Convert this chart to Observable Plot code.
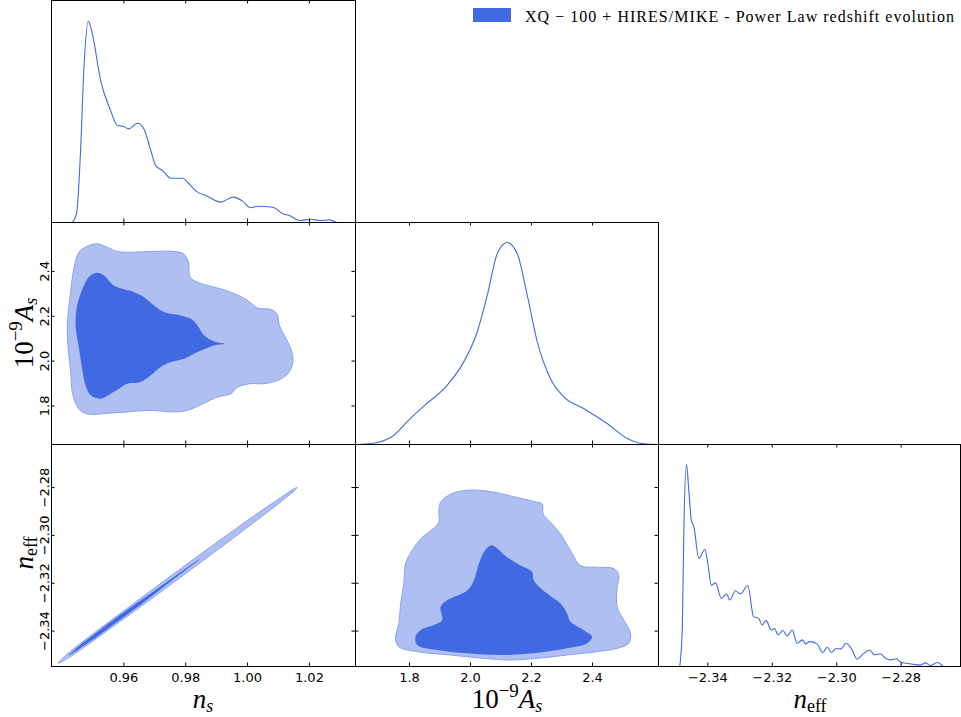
<!DOCTYPE html>
<html>
<head>
<meta charset="utf-8">
<script src="https://cdn.jsdelivr.net/npm/d3@7"></script>
<script src="https://cdn.jsdelivr.net/npm/@observablehq/plot@0.6"></script>
<style>
  html, body { margin: 0; padding: 0; background: white; }
  #root { position: relative; width: 961px; height: 717px; overflow: hidden; background: white; }
  #root svg.panel { position: absolute; }
  #overlay { position: absolute; left: 0; top: 0; pointer-events: none; }
</style>
</head>
<body>
<div id="root"></div>
<script>
// ---------- tick values ----------
const nsTicks = [0.96, 0.98, 1.00, 1.02];
const asTicks = [1.8, 2.0, 2.2, 2.4];
const neffTicks = [-2.34, -2.32, -2.30, -2.28];

// ---------- axis limits ----------
const nsDomain = [0.9366, 1.0349];
const asDomain = [1.623, 2.6164];
const asDomainY = [1.628, 2.618];
const neffDomain = [-2.3553, -2.2616];
const neffDomainY = [-2.3548, -2.2620];

// ---------- 1D marginal: n_s ----------
const nsX = [0.9433,0.9447,0.9460,0.9471,0.9485,0.9498,0.9525,0.9557,0.9579,0.9600,0.9615,0.9644,0.9665,0.9687,0.9703,0.9725,0.9752,0.9790,0.9806,0.9838,0.9865,0.9914,0.9952,0.9984,1.0009,1.0033,1.0082,1.0114,1.0135,1.0168,1.0206,1.0233,1.0265,1.0287];
const nsP = [0,0.043,0.358,0.771,1.0,0.937,0.705,0.556,0.482,0.477,0.465,0.493,0.465,0.358,0.283,0.258,0.220,0.220,0.200,0.151,0.134,0.101,0.126,0.106,0.073,0.081,0.076,0.043,0.035,0.010,0.016,0.010,0.013,0];

// ---------- 1D marginal: 10^-9 A_s ----------
const asX = [1.629,1.694,1.749,1.803,1.847,1.924,1.978,2.022,2.055,2.088,2.120,2.153,2.186,2.219,2.262,2.306,2.371,2.448,2.514,2.568,2.610];
const asP = [0,0.010,0.046,0.129,0.190,0.294,0.409,0.557,0.739,0.946,1.0,0.946,0.739,0.508,0.327,0.236,0.178,0.104,0.030,0.003,0];

// ---------- 1D marginal: n_eff ----------
const neffX = [-2.3487,-2.3479,-2.3474,-2.3466,-2.3459,-2.3451,-2.3443,-2.3428,-2.3409,-2.3400,-2.3389,-2.3376,-2.3358,-2.3342,-2.3332,-2.3314,-2.3299,-2.3276,-2.3258,-2.3242,-2.3231,-2.3219,-2.3203,-2.3193,-2.3182,-2.3167,-2.3154,-2.3138,-2.3123,-2.3107,-2.3097,-2.3084,-2.3061,-2.3043,-2.3030,-2.3016,-2.3002,-2.2988,-2.2971,-2.2952,-2.2937,-2.2919,-2.2898,-2.2883,-2.2864,-2.2849,-2.2831,-2.2815,-2.2800,-2.2771,-2.2740,-2.2725,-2.2709,-2.2687,-2.2670];
const neffP = [0,0.197,0.707,1.0,0.872,0.724,0.691,0.535,0.579,0.510,0.403,0.414,0.337,0.359,0.329,0.375,0.359,0.401,0.247,0.238,0.206,0.227,0.181,0.188,0.156,0.178,0.151,0.181,0.115,0.132,0.112,0.123,0.112,0.069,0.095,0.069,0.090,0.086,0.115,0.082,0.036,0.061,0.082,0.058,0.063,0.041,0.033,0.038,0.021,0.013,0.007,0.018,0.005,0.020,0];

// ---------- 2D: (n_s, 10^-9 A_s) contours ----------
const nsAs95 = [[0.9455,2.4857],[0.9482,2.5124],[0.9514,2.5228],[0.9546,2.5079],[0.9579,2.4887],[0.9633,2.4857],[0.9687,2.4887],[0.9763,2.4887],[0.9793,2.4783],[0.9809,2.4411],[0.9814,2.3743],[0.9838,2.3520],[0.9892,2.3298],[0.9946,2.3075],[1.0000,2.2704],[1.0033,2.2362],[1.0076,2.2303],[1.0095,2.2110],[1.0103,2.1590],[1.0125,2.0996],[1.0143,2.0402],[1.0146,1.9883],[1.0130,1.9437],[1.0098,1.9140],[1.0054,1.8992],[1.0011,1.8992],[0.9968,1.8843],[0.9946,1.8546],[0.9903,1.8398],[0.9849,1.8056],[0.9806,1.7804],[0.9763,1.7730],[0.9687,1.7804],[0.9611,1.7730],[0.9557,1.7685],[0.9492,1.7626],[0.9465,1.7730],[0.9447,1.8027],[0.9433,1.8621],[0.9428,1.9512],[0.9420,2.0551],[0.9417,2.1590],[0.9428,2.3075],[0.9438,2.4114]];
const nsAs68 = [[0.9476,2.3520],[0.9492,2.3817],[0.9514,2.3936],[0.9536,2.3817],[0.9568,2.3372],[0.9633,2.3075],[0.9665,2.2852],[0.9698,2.2481],[0.9730,2.2184],[0.9784,2.2036],[0.9817,2.1887],[0.9838,2.1590],[0.9860,2.1145],[0.9892,2.0878],[0.9925,2.0774],[0.9892,2.0699],[0.9838,2.0402],[0.9795,2.0105],[0.9752,1.9957],[0.9719,1.9734],[0.9687,1.9363],[0.9654,1.9066],[0.9611,1.8992],[0.9584,1.8769],[0.9557,1.8546],[0.9525,1.8324],[0.9492,1.8472],[0.9476,1.8918],[0.9465,1.9660],[0.9455,2.0551],[0.9444,2.1590],[0.9449,2.2481]];

// ---------- 2D: (n_s, n_eff) contours ----------
const nsNeff95 = [[0.9387,-2.3534],[0.9417,-2.3496],[0.9471,-2.3440],[0.9579,-2.3335],[0.9687,-2.3231],[0.9795,-2.3128],[0.9903,-2.3027],[1.0011,-2.2927],[1.0098,-2.2850],[1.0152,-2.2804],[1.0160,-2.2800],[1.0152,-2.2812],[1.0098,-2.2869],[1.0011,-2.2955],[0.9903,-2.3060],[0.9795,-2.3164],[0.9687,-2.3267],[0.9579,-2.3368],[0.9471,-2.3468],[0.9417,-2.3515]];
const nsNeff68 = [[0.9422,-2.3503],[0.9449,-2.3469],[0.9525,-2.3393],[0.9611,-2.3311],[0.9698,-2.3232],[0.9773,-2.3163],[0.9838,-2.3105],[0.9847,-2.3099],[0.9838,-2.3108],[0.9773,-2.3171],[0.9698,-2.3246],[0.9611,-2.3331],[0.9525,-2.3412],[0.9449,-2.3480]];

// ---------- 2D: (10^-9 A_s, n_eff) contours ----------
const asNeff95 = [[1.8962,-2.2904],[1.9016,-2.2862],[1.9344,-2.2828],[1.9891,-2.2811],[2.0656,-2.2817],[2.1311,-2.2835],[2.2077,-2.2858],[2.2350,-2.2869],[2.2383,-2.2911],[2.2623,-2.2945],[2.2951,-2.2994],[2.3279,-2.3063],[2.3607,-2.3126],[2.4153,-2.3133],[2.4699,-2.3139],[2.4863,-2.3167],[2.4809,-2.3216],[2.4809,-2.3299],[2.5027,-2.3354],[2.5246,-2.3410],[2.5191,-2.3451],[2.4809,-2.3472],[2.4153,-2.3486],[2.3169,-2.3500],[2.2186,-2.3514],[2.1311,-2.3521],[2.0437,-2.3514],[1.9344,-2.3500],[1.8251,-2.3486],[1.7650,-2.3465],[1.7541,-2.3431],[1.7650,-2.3368],[1.7705,-2.3292],[1.7814,-2.3202],[1.7869,-2.3119],[1.8087,-2.3063],[1.8415,-2.3008],[1.8634,-2.2987],[1.8962,-2.2945]];
const asNeff68 = [[2.0656,-2.3042],[2.0820,-2.3049],[2.1202,-2.3091],[2.1639,-2.3126],[2.2022,-2.3153],[2.2077,-2.3188],[2.2514,-2.3243],[2.2951,-2.3285],[2.3169,-2.3327],[2.3279,-2.3361],[2.3716,-2.3396],[2.3989,-2.3424],[2.3825,-2.3451],[2.3169,-2.3472],[2.2077,-2.3493],[2.0984,-2.3500],[1.9891,-2.3493],[1.8907,-2.3479],[1.8251,-2.3458],[1.8197,-2.3424],[1.8361,-2.3396],[1.8798,-2.3375],[1.9071,-2.3354],[1.9016,-2.3299],[1.9235,-2.3271],[1.9891,-2.3230],[2.0109,-2.3188],[2.0273,-2.3119],[2.0437,-2.3070]];

// ---------- legend ----------
const legendLabel = "XQ \u2212 100 + HIRES/MIKE - Power Law redshift evolution";

// ---------- styling ----------
const DARK = "#4169e1";
const LIGHT = "#b0bff2";
const EDGE = "#8aa2ee";

const root = document.getElementById("root");

const cols = [{left: 51, w: 304}, {left: 355, w: 303}, {left: 658, w: 302}];
const rows = [{top: 0, h: 222}, {top: 222, h: 222}, {top: 444, h: 222}];
const TL = 3.5;

function fmt2(d) { return d3.format(".2f")(d); }
function fmt1(d) { return d3.format(".1f")(d); }

function panel({c, r, xDomain, yDomain, marks, xTicks, yTicks, xLabels, yLabels, xFormat, yFormat}) {
  const {left, w} = cols[c];
  const {top, h} = rows[r];
  const m = [...marks];
  if (xTicks) {
    m.push(Plot.tickX(xTicks, {x: d => d, insetTop: h - TL, stroke: "black", strokeWidth: 1}));
    m.push(Plot.tickX(xTicks, {x: d => d, insetBottom: h - TL, stroke: "black", strokeWidth: 1}));
  }
  if (yTicks) {
    m.push(Plot.tickY(yTicks, {y: d => d, insetRight: w - TL, stroke: "black", strokeWidth: 1}));
    m.push(Plot.tickY(yTicks, {y: d => d, insetLeft: w - TL, stroke: "black", strokeWidth: 1}));
  }
  if (xLabels) m.push(Plot.axisX(xTicks, {anchor: "bottom", tickSize: 0, tickPadding: 6, label: null, tickFormat: xFormat, fill: "black"}));
  if (yLabels) m.push(Plot.axisY(yTicks, {anchor: "left", tickSize: 0, tickPadding: 3, tickRotate: -90, label: null, tickFormat: yFormat, fill: "black"}));
  m.push(Plot.frame({stroke: "black", strokeWidth: 1}));
  const svg = Plot.plot({
    width: w, height: h, margin: 0,
    x: {domain: xDomain, axis: null},
    y: {domain: yDomain, axis: null},
    style: {background: "transparent", overflow: "visible", fontFamily: "DejaVu Sans", fontSize: "13px", color: "black"},
    marks: m
  });
  svg.classList.add("panel");
  svg.style.left = left + "px";
  svg.style.top = top + "px";
  root.appendChild(svg);
}

function tab(xs, ys) { return xs.map((x, i) => ({x, y: ys[i]})); }

// Top-left: n_s marginal
panel({c: 0, r: 0, xDomain: nsDomain, yDomain: [0, 1.103], xTicks: nsTicks,
  marks: [Plot.line(tab(nsX, nsP), {x: "x", y: "y", curve: "monotone-x", stroke: DARK, strokeWidth: 1.1, clip: true})]});

// Middle-left: n_s vs A_s
panel({c: 0, r: 1, xDomain: nsDomain, yDomain: asDomainY, xTicks: nsTicks, yTicks: asTicks, yLabels: true, yFormat: fmt1,
  marks: [
    Plot.line(nsAs95, {x: d => d[0], y: d => d[1], curve: "catmull-rom-closed", fill: LIGHT, stroke: EDGE, strokeWidth: 1, clip: true}),
    Plot.line(nsAs68, {x: d => d[0], y: d => d[1], curve: "catmull-rom-closed", fill: DARK, stroke: "none", clip: true})
  ]});

// Middle-middle: A_s marginal
panel({c: 1, r: 1, xDomain: asDomain, yDomain: [0, 1.099], xTicks: asTicks,
  marks: [Plot.line(tab(asX, asP), {x: "x", y: "y", curve: "monotone-x", stroke: DARK, strokeWidth: 1.1, clip: true})]});

// Bottom-left: n_s vs n_eff
panel({c: 0, r: 2, xDomain: nsDomain, yDomain: neffDomainY, xTicks: nsTicks, yTicks: neffTicks, xLabels: true, yLabels: true, xFormat: fmt2, yFormat: fmt2,
  marks: [
    Plot.line(nsNeff95, {x: d => d[0], y: d => d[1], curve: "catmull-rom-closed", fill: LIGHT, stroke: EDGE, strokeWidth: 1, clip: true}),
    Plot.line(nsNeff68, {x: d => d[0], y: d => d[1], curve: "catmull-rom-closed", fill: DARK, stroke: "none", clip: true})
  ]});

// Bottom-middle: A_s vs n_eff
panel({c: 1, r: 2, xDomain: asDomain, yDomain: neffDomainY, xTicks: asTicks, yTicks: neffTicks, xLabels: true, xFormat: fmt1,
  marks: [
    Plot.line(asNeff95, {x: d => d[0], y: d => d[1], curve: "catmull-rom-closed", fill: LIGHT, stroke: EDGE, strokeWidth: 1, clip: true}),
    Plot.line(asNeff68, {x: d => d[0], y: d => d[1], curve: "catmull-rom-closed", fill: DARK, stroke: "none", clip: true})
  ]});

// Bottom-right: n_eff marginal
panel({c: 2, r: 2, xDomain: neffDomain, yDomain: [0, 1.099], xTicks: neffTicks, xLabels: true, xFormat: fmt2,
  marks: [Plot.line(tab(neffX, neffP), {x: "x", y: "y", curve: "monotone-x", stroke: DARK, strokeWidth: 1.1, clip: true})]});

// ---------- titles & legend overlay ----------
const NS = "http://www.w3.org/2000/svg";
const ov = document.createElementNS(NS, "svg");
ov.setAttribute("id", "overlay");
ov.setAttribute("width", 961);
ov.setAttribute("height", 717);
ov.innerHTML = `
  <g font-family="Liberation Serif, DejaVu Serif, serif" fill="black">
    <text x="203" y="708" text-anchor="middle" font-size="27"><tspan font-style="italic">n</tspan><tspan font-style="italic" font-size="18" dy="4">s</tspan></text>
    <text x="507" y="708" text-anchor="middle" font-size="27">10<tspan font-size="19" dy="-11">\u22129</tspan><tspan font-style="italic" dy="11">A</tspan><tspan font-style="italic" font-size="18" dy="4">s</tspan></text>
    <text x="810" y="708" text-anchor="middle" font-size="27"><tspan font-style="italic">n</tspan><tspan font-size="18" dy="4">eff</tspan></text>
    <g transform="translate(33,333) rotate(-90)">
      <text x="0" y="0" text-anchor="middle" font-size="27">10<tspan font-size="19" dy="-11">\u22129</tspan><tspan font-style="italic" dy="11">A</tspan><tspan font-style="italic" font-size="18" dy="4">s</tspan></text>
    </g>
    <g transform="translate(33,553) rotate(-90)">
      <text x="0" y="0" text-anchor="middle" font-size="27"><tspan font-style="italic">n</tspan><tspan font-size="18" dy="4">eff</tspan></text>
    </g>
    <rect x="473" y="8" width="38" height="14" fill="${DARK}"></rect>
    <text x="525" y="21.5" font-size="16" textLength="429" lengthAdjust="spacing">${legendLabel}</text>
  </g>`;
root.appendChild(ov);
</script>
</body>
</html>
